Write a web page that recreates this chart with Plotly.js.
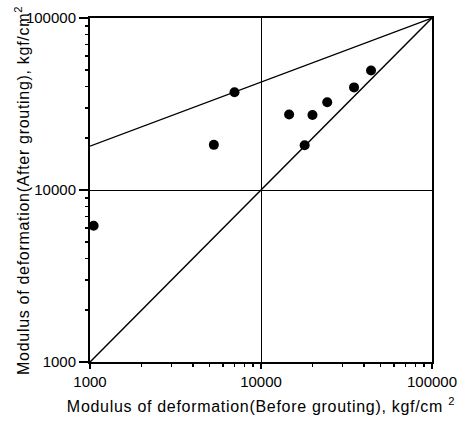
<!DOCTYPE html>
<html>
<head>
<meta charset="utf-8">
<script src="https://cdn.plot.ly/plotly-3.0.1.min.js"></script>
<style>
body{margin:0;padding:0;background:#fff;}
#chart{width:464px;height:430px;}
.xtitle, .ytitle, .annotation-text{letter-spacing:0.7px;}
</style>
</head>
<body>
<div id="chart"></div>
<script>
// Measured data: modulus of deformation before vs after grouting (kgf/cm^2)
const beforeGrouting = [1050, 5300, 7000, 14600, 20000, 24400, 18000, 35000, 44000];
const afterGrouting  = [6200, 18300, 37000, 27500, 27300, 32400, 18200, 39500, 49500];

// Reference lines
const equalLineX = [1000, 100000];
const equalLineY = [1000, 100000];
const upperLineX = [1000, 100000];
const upperLineY = [18000, 100000];

const majorTicks = [1000, 10000, 100000];
const majorTickText = ['1000', '10000', '100000'];
const minorTicks = [2000,3000,4000,5000,6000,7000,8000,9000,
                    20000,30000,40000,50000,60000,70000,80000,90000];

const xTitle = 'Modulus of deformation(Before grouting), kgf/cm <sup>2</sup>';
const yTitle = 'Modulus of deformation(After grouting), kgf/cm<sup>2</sup>';

const traces = [
  {x: equalLineX, y: equalLineY, mode: 'lines', line: {color: '#000', width: 1.5}, hoverinfo: 'skip'},
  {x: upperLineX, y: upperLineY, mode: 'lines', line: {color: '#000', width: 1.2}, hoverinfo: 'skip'},
  {x: beforeGrouting, y: afterGrouting, mode: 'markers', marker: {color: '#000', size: 10}},
  // invisible trace on the minor-tick axes so they render
  {x: equalLineX, y: equalLineY, xaxis: 'x2', yaxis: 'y2', mode: 'markers', marker: {size: 1, color: 'rgba(0,0,0,0)'}, hoverinfo: 'skip'}
];

const fontFam = 'Liberation Sans, Arial, sans-serif';
const axisCommon = {
  type: 'log',
  range: [3, 5],
  tickmode: 'array',
  tickvals: majorTicks,
  ticktext: majorTickText,
  ticks: 'outside',
  tickwidth: 1.5,
  tickcolor: '#000',
  showline: true,
  linecolor: '#000',
  linewidth: 2,
  mirror: true,
  showgrid: true,
  gridcolor: '#000',
  gridwidth: 1,
  zeroline: false,
  tickfont: {family: fontFam, size: 15, color: '#000'}
};
const minorCommon = {
  type: 'log',
  range: [3, 5],
  tickmode: 'array',
  tickvals: minorTicks,
  ticks: 'outside',
  ticklen: 4,
  tickwidth: 1.5,
  tickcolor: '#000',
  showline: false,
  showgrid: false,
  zeroline: false,
  showticklabels: false
};

const layout = {
  width: 464,
  height: 430,
  margin: {l: 90, r: 32, t: 18, b: 68},
  paper_bgcolor: '#fff',
  plot_bgcolor: '#fff',
  showlegend: false,
  font: {family: fontFam, color: '#000'},
  xaxis: Object.assign({}, axisCommon, {
    ticklen: 5,
    title: {text: xTitle, font: {family: fontFam, size: 16, color: '#000'}, standoff: 12}
  }),
  yaxis: Object.assign({}, axisCommon, {ticklen: 9}),
  xaxis2: Object.assign({}, minorCommon, {overlaying: 'x', side: 'bottom', anchor: 'y'}),
  yaxis2: Object.assign({}, minorCommon, {overlaying: 'y', side: 'left', anchor: 'x'}),
  annotations: [{
    text: yTitle, textangle: -90, xref: 'paper', yref: 'paper',
    x: -0.199, y: 0.5, xanchor: 'center', yanchor: 'middle', showarrow: false,
    font: {family: fontFam, size: 16, color: '#000'}
  }]
};

Plotly.newPlot('chart', traces, layout, {displayModeBar: false, staticPlot: true});
</script>
</body>
</html>
